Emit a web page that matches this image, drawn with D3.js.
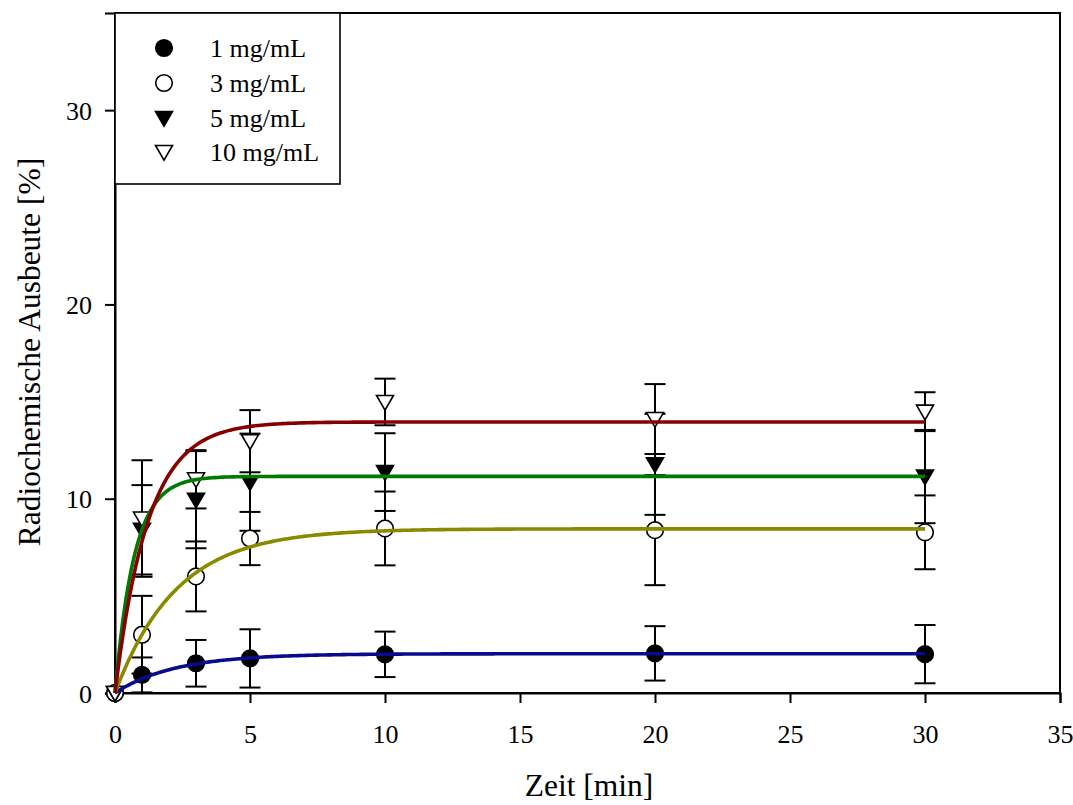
<!DOCTYPE html>
<html>
<head>
<meta charset="utf-8">
<script src="https://cdn.jsdelivr.net/npm/d3@7"></script>
<style>
  body { margin: 0; background: #fff; }
  svg, svg text { font-family: "Liberation Serif", Tinos, "Times New Roman", "DejaVu Serif", serif; }
</style>
</head>
<body>
<div id="chart"></div>
<script>
// measured values (time in min, yield in %)
const times = [0, 1, 3, 5, 10, 20, 30]
const seriesNames = ['1 mg/mL', '3 mg/mL', '5 mg/mL', '10 mg/mL']
const yield1 = [0, 0.93, 1.53, 1.78, 1.99, 2.04, 2.0]
const err1 = [0, 0.9, 1.2, 1.5, 1.17, 1.4, 1.5]
const yield3 = [0, 3.0, 6.0, 7.95, 8.47, 8.38, 8.27]
const err3 = [0, 2.0, 1.8, 1.37, 1.9, 2.83, 1.9]
const yield5 = [0, 8.4, 9.95, 10.85, 11.37, 11.77, 11.14]
const err5 = [0, 2.3, 2.5, 2.5, 2.0, 2.6, 2.4]
const yield10 = [0, 8.98, 11.0, 12.96, 14.98, 14.1, 14.48]
const err10 = [0, 3.0, 1.5, 1.6, 1.2, 1.8, 1.0]
// exponential rise to max fit: y = a * (1 - exp(-b t))
const fitMax = [2.02, 8.45, 11.15, 13.95]
const fitRate = [0.45, 0.44, 1.4, 0.82]
const curveColors = ['#0a0a8c', '#8a8a00', '#007a00', '#860000']
const markerKinds = ['circleFilled', 'circleOpen', 'triFilled', 'triOpen']
const xTicks = [0, 5, 10, 15, 20, 25, 30, 35]
const yTicks = [0, 10, 20, 30]

const params = { width: 1073, height: 805, left: 115, right: 1060, top: 13, bottom: 693 }
const FONT = '"Liberation Serif", Tinos, "Times New Roman", "DejaVu Serif", serif'

const yields = [yield1, yield3, yield5, yield10]
const errs = [err1, err3, err5, err10]

const svg = d3.select('#chart')
  .append('svg')
  .attr('width', params.width)
  .attr('height', params.height)
  .attr('font-family', FONT)

const x = d3.scaleLinear().domain([0, 35]).range([params.left, params.right])
const y = d3.scaleLinear().domain([0, 35]).range([params.bottom, params.top])

function markerPath(kind) {
  if (kind.startsWith('circle')) {
    return d3.symbol().type(d3.symbolCircle).size(Math.PI * 8.3 * 8.3)()
  }
  // downward triangle
  return 'M-8.5,-6.5L8.5,-6.5L0,8.2Z'
}

function drawMarker(g, kind, cx, cy) {
  const filled = kind.endsWith('Filled')
  g.append('path')
    .attr('d', markerPath(kind))
    .attr('transform', `translate(${cx},${cy})`)
    .attr('fill', filled ? '#000' : '#fff')
    .attr('stroke', '#000')
    .attr('stroke-width', 1.6)
}

// frame
svg.append('rect')
  .attr('x', params.left).attr('y', params.top)
  .attr('width', params.right - params.left)
  .attr('height', params.bottom - params.top)
  .attr('fill', 'none').attr('stroke', '#000').attr('stroke-width', 2)

// axes
const xAxis = svg.append('g')
  .attr('transform', `translate(0,${params.bottom})`)
  .call(d3.axisBottom(x).tickValues(xTicks).tickSize(10).tickPadding(22).tickFormat(d3.format('d')))
const yAxis = svg.append('g')
  .attr('transform', `translate(${params.left},0)`)
  .call(d3.axisLeft(y).tickValues(yTicks).tickSize(10).tickPadding(13).tickFormat(d3.format('d')))
for (const ax of [xAxis, yAxis]) {
  ax.attr('font-family', FONT)
  ax.select('.domain').attr('stroke-width', 2)
  ax.selectAll('.tick line').attr('stroke-width', 2)
  ax.selectAll('.tick text')
    .attr('font-size', 26)
    .attr('fill', '#000')
}
yAxis.selectAll('.tick text').attr('dy', '0.35em')

// axis titles
svg.append('text')
  .attr('x', 589).attr('y', 796)
  .attr('text-anchor', 'middle')
  .attr('font-size', 31.5)
  .text('Zeit [min]')
svg.append('text')
  .attr('transform', `translate(40,352) rotate(-90)`)
  .attr('text-anchor', 'middle')
  .attr('font-size', 31.5)
  .text('Radiochemische Ausbeute [%]')

// error bars, markers
const dataLayer = svg.append('g')
yields.forEach((ys, si) => {
  const g = dataLayer.append('g')
  times.forEach((t, i) => {
    const e = errs[si][i]
    if (e > 0) {
      const cx = x(t)
      g.append('line')
        .attr('x1', cx).attr('x2', cx)
        .attr('y1', y(ys[i] - e)).attr('y2', y(ys[i] + e))
        .attr('stroke', '#000').attr('stroke-width', 2)
      for (const v of [ys[i] - e, ys[i] + e]) {
        g.append('line')
          .attr('x1', cx - 10.5).attr('x2', cx + 10.5)
          .attr('y1', y(v)).attr('y2', y(v))
          .attr('stroke', '#000').attr('stroke-width', 2)
      }
    }
  })
})
yields.forEach((ys, si) => {
  const g = dataLayer.append('g')
  times.forEach((t, i) => drawMarker(g, markerKinds[si], x(t), y(ys[i])))
})

// fitted curves
const line = d3.line().x(d => x(d[0])).y(d => y(d[1]))
const curveT = d3.range(0, 30.001, 0.1)
fitMax.forEach((a, si) => {
  svg.append('path')
    .datum(curveT.map(t => [t, a * (1 - Math.exp(-fitRate[si] * t))]))
    .attr('d', line)
    .attr('fill', 'none')
    .attr('stroke', curveColors[si])
    .attr('stroke-width', 3.6)
})

// legend
const legend = svg.append('g')
legend.append('rect')
  .attr('x', params.left).attr('y', params.top)
  .attr('width', 225).attr('height', 171)
  .attr('fill', '#fff').attr('stroke', '#000').attr('stroke-width', 1.6)
const legendRows = [48, 83, 118, 152]
seriesNames.forEach((name, i) => {
  drawMarker(legend, markerKinds[i], 164, legendRows[i])
  legend.append('text')
    .attr('x', 210).attr('y', legendRows[i] + 9)
    .attr('font-size', 26)
    .text(name)
})
</script>
</body>
</html>
